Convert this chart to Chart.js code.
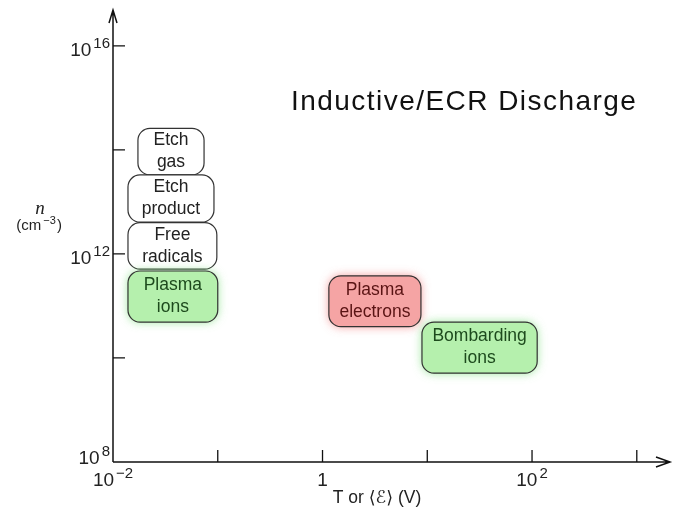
<!DOCTYPE html>
<html>
<head>
<meta charset="utf-8">
<script src="https://cdn.jsdelivr.net/npm/chart.js@4/dist/chart.umd.min.js"></script>
<style>
  body { margin: 0; background: #fff; }
</style>
</head>
<body>
<canvas id="myChart" width="681" height="510"></canvas>
<script>
// species regions: x = T or <E> (V), y = n (cm^-3)
const boxLabels = [['Etch', 'gas'], ['Etch', 'product'], ['Free', 'radicals'], ['Plasma', 'ions'], ['Plasma', 'electrons'], ['Bombarding', 'ions']];
const boxKinds = ['neutral', 'neutral', 'neutral', 'ion', 'electron', 'ion'];
const xLow = [0.0173, 0.0139, 0.0139, 0.0139, 1.15, 8.9];
const xHigh = [0.074, 0.092, 0.098, 0.1, 8.7, 112];
const yLow = [3.3e13, 4.1e12, 5.1e11, 4.9e10, 4.0e10, 5.1e9];
const yHigh = [2.6e14, 3.3e13, 4.0e12, 4.7e11, 3.8e11, 4.9e10];

// axes
const xTicks = [1e-2, 1e-1, 1, 10, 1e2, 1e3];
const xTickLabels = [['10', '\u22122'], null, ['1', ''], null, ['10', '2'], null];
const yTicks = [1e8, 1e10, 1e12, 1e14, 1e16];
const yTickLabels = [['10', '8'], null, ['10', '12'], null, ['10', '16']];
const chartTitle = 'Inductive/ECR Discharge';

const SANS = '"Liberation Sans", "DejaVu Sans", sans-serif';

const styles = {
  neutral: { fill: '#ffffff', glow: null, text: '#222222' },
  ion: { fill: '#b5f0ad', glow: 'rgba(110,220,110,0.7)', text: '#1d4a1d' },
  electron: { fill: '#f5a4a4', glow: 'rgba(240,110,110,0.7)', text: '#5a1414' }
};

function roundRect(ctx, x, y, w, h, r) {
  ctx.beginPath();
  ctx.moveTo(x + r, y);
  ctx.arcTo(x + w, y, x + w, y + h, r);
  ctx.arcTo(x + w, y + h, x, y + h, r);
  ctx.arcTo(x, y + h, x, y, r);
  ctx.arcTo(x, y, x + w, y, r);
  ctx.closePath();
}

// draws 10^n style label; align 'right' or 'center' at x
function powerLabel(ctx, lab, x, y, align, baseSize, supSize) {
  ctx.font = baseSize + 'px ' + SANS;
  let wb = ctx.measureText(lab[0]).width;
  ctx.font = supSize + 'px ' + SANS;
  let ws = lab[1] ? ctx.measureText(lab[1]).width + 2 : 0;
  let total = wb + ws;
  let left = align === 'right' ? x - total : x - total / 2;
  ctx.textAlign = 'left';
  ctx.textBaseline = 'alphabetic';
  ctx.font = baseSize + 'px ' + SANS;
  ctx.fillText(lab[0], left, y);
  if (lab[1]) {
    ctx.font = supSize + 'px ' + SANS;
    ctx.fillText(lab[1], left + wb + 2, y - baseSize * 0.4);
  }
}

const schematicPlugin = {
  id: 'schematic',
  afterDraw(chart) {
    const ctx = chart.ctx;
    const xs = chart.scales.x, ys = chart.scales.y;
    const area = chart.chartArea;
    const x0 = xs.getPixelForValue(xTicks[0]);
    const y0 = ys.getPixelForValue(yTicks[0]);
    ctx.save();
    ctx.strokeStyle = '#111';
    ctx.fillStyle = '#111';
    ctx.lineWidth = 1.5;

    // axis lines with open arrowheads
    ctx.beginPath();
    ctx.moveTo(x0, y0);
    ctx.lineTo(x0, area.top);
    ctx.moveTo(x0 - 4, area.top + 13);
    ctx.lineTo(x0, area.top);
    ctx.lineTo(x0 + 4, area.top + 13);
    ctx.moveTo(x0, y0);
    ctx.lineTo(area.right, y0);
    ctx.moveTo(area.right - 14, y0 - 5);
    ctx.lineTo(area.right, y0);
    ctx.lineTo(area.right - 14, y0 + 5);
    ctx.stroke();

    // ticks
    ctx.lineWidth = 1.3;
    ctx.beginPath();
    yTicks.forEach((v, i) => {
      if (i === 0) return;
      let py = ys.getPixelForValue(v);
      ctx.moveTo(x0, py);
      ctx.lineTo(x0 + 12, py);
    });
    xTicks.forEach((v, i) => {
      if (i === 0) return;
      let px = xs.getPixelForValue(v);
      ctx.moveTo(px, y0);
      ctx.lineTo(px, y0 - 12);
    });
    ctx.stroke();

    // tick labels
    ctx.fillStyle = '#222';
    yTicks.forEach((v, i) => {
      if (!yTickLabels[i]) return;
      let py = ys.getPixelForValue(v);
      // bottom label sits on the axis line, the others centre on their tick
      powerLabel(ctx, yTickLabels[i], x0 - 3, i === 0 ? py + 2 : py + 10, 'right', 19, 15);
    });
    xTicks.forEach((v, i) => {
      if (!xTickLabels[i]) return;
      let px = xs.getPixelForValue(v);
      powerLabel(ctx, xTickLabels[i], px, y0 + 24, 'center', 19, 15);
    });

    // axis titles
    ctx.textAlign = 'center';
    ctx.font = '17.5px ' + SANS;
    ctx.fillText('T or \u27E8\u2130\u27E9 (V)', 377, 503);
    ctx.font = 'italic 19px "Liberation Serif", serif';
    ctx.fillText('n', 40, 214);
    powerLabel(ctx, ['(cm', '\u22123'], 36, 230, 'center', 15, 11);
    ctx.font = '15px ' + SANS;
    ctx.textAlign = 'left';
    ctx.fillText(')', 57, 230);

    // title
    ctx.font = '28px ' + SANS;
    ctx.textAlign = 'left';
    let w = ctx.measureText(chartTitle).width;
    ctx.letterSpacing = ((345 - w) / (chartTitle.length - 1)).toFixed(2) + 'px';
    ctx.fillStyle = '#111';
    ctx.fillText(chartTitle, 291, 110);
    ctx.letterSpacing = '0px';

    // species boxes
    boxLabels.forEach((lines, i) => {
      let st = styles[boxKinds[i]];
      let l = xs.getPixelForValue(xLow[i]);
      let r = xs.getPixelForValue(xHigh[i]);
      let t = ys.getPixelForValue(yHigh[i]);
      let b = ys.getPixelForValue(yLow[i]);
      ctx.save();
      if (st.glow) {
        ctx.shadowColor = st.glow;
        ctx.shadowBlur = 10;
      }
      roundRect(ctx, l, t, r - l, b - t, 12);
      ctx.fillStyle = st.fill;
      ctx.fill();
      ctx.restore();
      roundRect(ctx, l, t, r - l, b - t, 12);
      ctx.strokeStyle = '#333';
      ctx.lineWidth = 1.2;
      ctx.stroke();
      ctx.fillStyle = st.text;
      ctx.font = '17.5px ' + SANS;
      ctx.textAlign = 'center';
      ctx.textBaseline = 'middle';
      let cx = (l + r) / 2, cy = (t + b) / 2;
      ctx.fillText(lines[0], cx, cy - 11);
      ctx.fillText(lines[1], cx, cy + 11);
      ctx.textBaseline = 'alphabetic';
    });
    ctx.restore();
  }
};

let ctx = document.getElementById('myChart').getContext('2d');
let myChart = new Chart(ctx, {
  type: 'scatter',
  data: { datasets: [{ data: [] }] },
  options: {
    responsive: false,
    animation: false,
    layout: { padding: { left: 113, right: 11, top: 10, bottom: 48 } },
    plugins: { legend: { display: false }, tooltip: { enabled: false } },
    scales: {
      x: { type: 'logarithmic', min: 1e-2, max: Math.pow(10, 3.317), display: false },
      y: { type: 'logarithmic', min: 1e8, max: Math.pow(10, 16.69), display: false }
    }
  },
  plugins: [schematicPlugin]
});
</script>
</body>
</html>
